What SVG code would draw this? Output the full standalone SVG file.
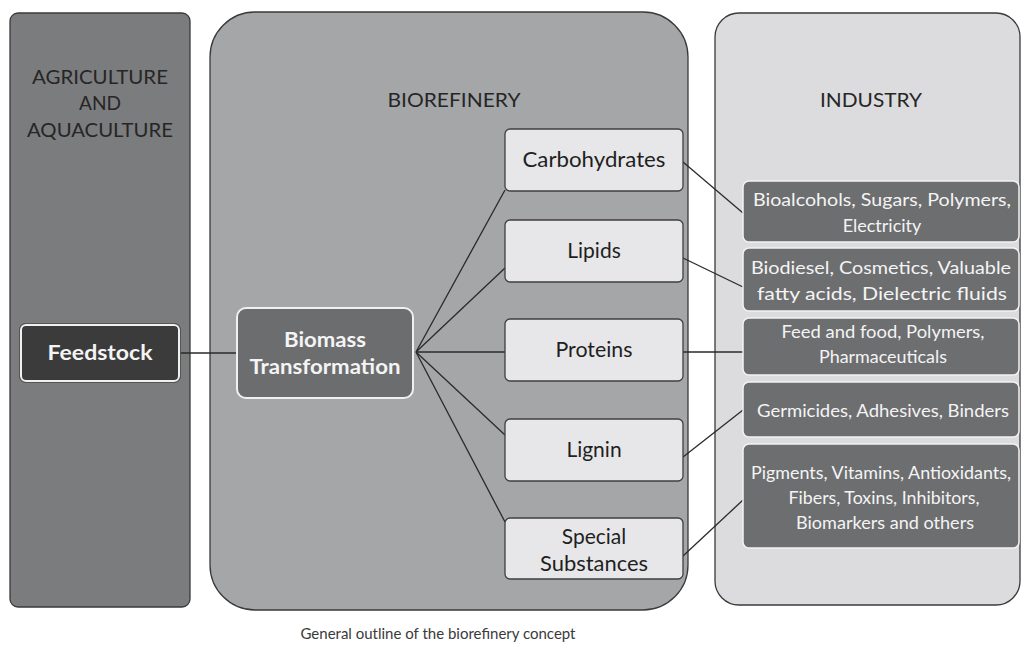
<svg xmlns="http://www.w3.org/2000/svg" width="1021" height="653" viewBox="0 0 1021 653">
<style>
.panel{stroke:#3a3a3a;stroke-width:1.3}
.hdr{font-family:Lato,"Liberation Sans",sans-serif;font-size:20px;fill:#262626;text-anchor:middle}
.prod{fill:#e7e7e9;stroke:#3f3f3f;stroke-width:1.3}
.ptxt{font-family:Lato,"Liberation Sans",sans-serif;font-size:21px;fill:#1f1f1f;text-anchor:middle}
.ind{fill:#6d6e70;stroke:#f2f2f2;stroke-width:1.5}
.itxt{font-family:Lato,"Liberation Sans",sans-serif;font-size:18px;fill:#f4f4f4;text-anchor:middle}
.wtxt{font-family:Lato,"Liberation Sans",sans-serif;font-size:21px;font-weight:bold;fill:#f4f4f4;text-anchor:middle}
.conn line{stroke:#2a2a2a;stroke-width:1.3}
.cap{font-family:Lato,"Liberation Sans",sans-serif;font-size:15px;fill:#3a3a3a;text-anchor:middle}
</style>
<rect width="1021" height="653" fill="#ffffff"/>
<g id="agriculture">
<rect class="panel" x="10" y="13" width="180" height="594" rx="8" fill="#7b7c7e"/>
<text class="hdr" x="100" y="84" textLength="136" lengthAdjust="spacingAndGlyphs">AGRICULTURE</text>
<text class="hdr" x="100" y="110" textLength="42" lengthAdjust="spacingAndGlyphs">AND</text>
<text class="hdr" x="100" y="137" textLength="146" lengthAdjust="spacingAndGlyphs">AQUACULTURE</text>
</g>
<g id="biorefinery">
<rect class="panel" x="210" y="12" width="478" height="598" rx="45" fill="#a5a6a8"/>
<text class="hdr" x="454" y="107" textLength="133" lengthAdjust="spacingAndGlyphs">BIOREFINERY</text>
</g>
<g id="industry">
<rect class="panel" x="715" y="13" width="305" height="592" rx="24" fill="#dcdcde"/>
<text class="hdr" x="871" y="107" textLength="102" lengthAdjust="spacingAndGlyphs">INDUSTRY</text>
</g>
<g class="conn" id="connectors">
<line x1="180" y1="353" x2="237" y2="353"/>
<line x1="416" y1="352" x2="505" y2="190"/>
<line x1="416" y1="352" x2="505" y2="268"/>
<line x1="416" y1="352" x2="505" y2="352"/>
<line x1="416" y1="352" x2="505" y2="435"/>
<line x1="416" y1="352" x2="505" y2="522"/>
<line x1="683" y1="162" x2="743" y2="213"/>
<line x1="683" y1="258" x2="743" y2="287"/>
<line x1="683" y1="352" x2="743" y2="352"/>
<line x1="683" y1="457" x2="743" y2="410"/>
<line x1="683" y1="556" x2="743" y2="500"/>
</g>
<g id="feedstock">
<rect x="19.5" y="323.5" width="161" height="59" rx="6" fill="#3b3b3b" stroke="#555" stroke-width="1"/>
<rect x="21" y="325" width="158" height="56" rx="5" fill="none" stroke="#f0f0f0" stroke-width="2"/>
<text class="wtxt" x="100" y="360" textLength="105" lengthAdjust="spacingAndGlyphs">Feedstock</text>
</g>
<g id="biomass">
<rect x="237" y="308" width="176" height="90" rx="9" fill="#6c6d6f" stroke="#f0f0f0" stroke-width="2"/>
<text class="wtxt" x="325" y="347" textLength="82" lengthAdjust="spacingAndGlyphs">Biomass</text>
<text class="wtxt" x="325" y="374" textLength="151" lengthAdjust="spacingAndGlyphs">Transformation</text>
</g>
<g id="carbohydrates">
<rect class="prod" x="505" y="129" width="178" height="62" rx="5"/>
<text class="ptxt" x="594" y="167" textLength="143" lengthAdjust="spacingAndGlyphs">Carbohydrates</text>
</g>
<g id="lipids">
<rect class="prod" x="505" y="220" width="178" height="62" rx="5"/>
<text class="ptxt" x="594" y="258">Lipids</text>
</g>
<g id="proteins">
<rect class="prod" x="505" y="319" width="178" height="62" rx="5"/>
<text class="ptxt" x="594" y="357" textLength="77" lengthAdjust="spacingAndGlyphs">Proteins</text>
</g>
<g id="lignin">
<rect class="prod" x="505" y="419" width="178" height="62" rx="5"/>
<text class="ptxt" x="594" y="457">Lignin</text>
</g>
<g id="special">
<rect class="prod" x="505" y="518" width="178" height="61" rx="5"/>
<text class="ptxt" x="594" y="544">Special</text>
<text class="ptxt" x="594" y="571" textLength="108" lengthAdjust="spacingAndGlyphs">Substances</text>
</g>
<g id="ind1">
<rect class="ind" x="743" y="181" width="276" height="61" rx="6"/>
<text class="itxt" x="882" y="206" textLength="258" lengthAdjust="spacingAndGlyphs">Bioalcohols, Sugars, Polymers,</text>
<text class="itxt" x="882" y="232">Electricity</text>
</g>
<g id="ind2">
<rect class="ind" x="743" y="248" width="276" height="63" rx="6"/>
<text class="itxt" x="881" y="274" textLength="260" lengthAdjust="spacingAndGlyphs">Biodiesel, Cosmetics, Valuable</text>
<text class="itxt" x="882" y="300" textLength="250" lengthAdjust="spacingAndGlyphs">fatty acids, Dielectric fluids</text>
</g>
<g id="ind3">
<rect class="ind" x="743" y="318" width="276" height="57" rx="6"/>
<text class="itxt" x="883" y="338" textLength="203" lengthAdjust="spacingAndGlyphs">Feed and food, Polymers,</text>
<text class="itxt" x="883" y="363" textLength="128" lengthAdjust="spacingAndGlyphs">Pharmaceuticals</text>
</g>
<g id="ind4">
<rect class="ind" x="743" y="382" width="276" height="55" rx="6"/>
<text class="itxt" x="883" y="417" textLength="252" lengthAdjust="spacingAndGlyphs">Germicides, Adhesives, Binders</text>
</g>
<g id="ind5">
<rect class="ind" x="743" y="444" width="276" height="104" rx="6"/>
<text class="itxt" x="881" y="479" textLength="260" lengthAdjust="spacingAndGlyphs">Pigments, Vitamins, Antioxidants,</text>
<text class="itxt" x="884" y="504" textLength="191" lengthAdjust="spacingAndGlyphs">Fibers, Toxins, Inhibitors,</text>
<text class="itxt" x="885" y="529" textLength="178" lengthAdjust="spacingAndGlyphs">Biomarkers and others</text>
</g>
<text class="cap" x="438" y="639">General outline of the biorefinery concept</text>
</svg>
